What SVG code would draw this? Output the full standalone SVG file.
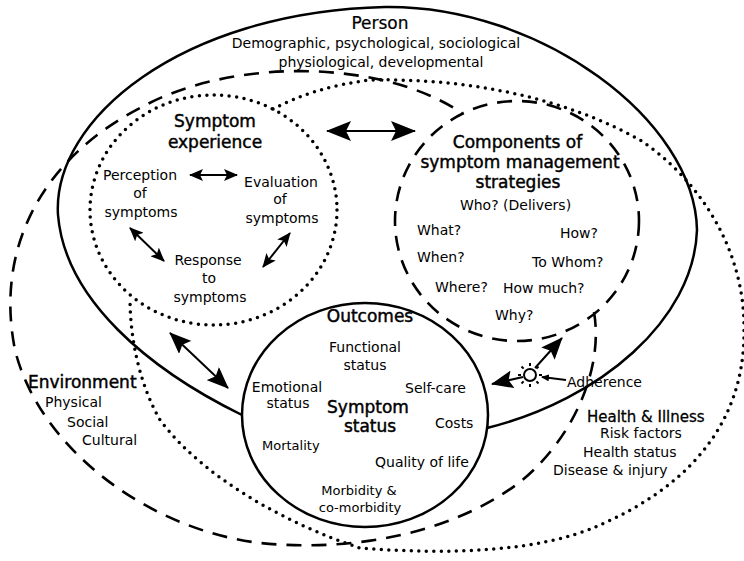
<svg xmlns="http://www.w3.org/2000/svg" width="744" height="561" viewBox="0 0 744 561">
<style>
text{font-family:"DejaVu Sans","Liberation Sans",sans-serif;fill:#000}
.t{font-size:17px;stroke:#000;stroke-width:0.45}
.b{font-size:14px}
.s{font-size:13px}
.m{text-anchor:middle}
.solid{fill:none;stroke:#000;stroke-width:2.5}
.dash{fill:none;stroke:#000;stroke-width:2.6;stroke-dasharray:15 10}
.dot{fill:none;stroke:#000;stroke-width:3.5;stroke-dasharray:0 7.5;stroke-linecap:round}
.ln{fill:none;stroke:#000;stroke-width:2}
</style>
<defs>
<marker id="big" viewBox="0 0 25 20" refX="24" refY="10" markerWidth="25" markerHeight="20" markerUnits="userSpaceOnUse" orient="auto-start-reverse"><path d="M0,0 L25,10 L0,20 L5,10 z" fill="#000"/></marker>
<marker id="mid" viewBox="0 0 22 18" refX="21" refY="9" markerWidth="22" markerHeight="18" markerUnits="userSpaceOnUse" orient="auto-start-reverse"><path d="M0,0 L22,9 L0,18 L4,9 z" fill="#000"/></marker>
<marker id="sm" viewBox="0 0 14 12" refX="13" refY="6" markerWidth="14" markerHeight="12" markerUnits="userSpaceOnUse" orient="auto-start-reverse"><path d="M0,0 L14,6 L0,12 L3,6 z" fill="#000"/></marker>
<marker id="tiny" viewBox="0 0 8 7" refX="7" refY="3.5" markerWidth="8" markerHeight="7" markerUnits="userSpaceOnUse" orient="auto"><path d="M0,0 L8,3.5 L0,7 z" fill="#000"/></marker>
</defs>
<rect width="744" height="561" fill="#fff"/>

<g id="environment">
<path class="dash" d="M594,312 C604,370 572,440 520,482 C450,535 350,552 260,543 C150,530 40,450 15,350 C-5,250 40,160 140,108 C230,58 380,58 462,113"/>
<text class="t" x="28" y="388">Environment</text>
<text class="b" x="45" y="407">Physical</text>
<text class="b" x="67" y="427">Social</text>
<text class="b" x="82" y="445">Cultural</text>
</g>

<g id="health-illness">
<path class="dot" d="M273,109 C300,95 330,85 370,80 C460,78 560,95 640,140 C700,180 745,250 744,330 C745,430 680,490 600,525 C540,552 450,555 360,548 C290,525 205,480 160,420 C140,385 130,340 130,298"/>
<text x="587" y="422" style="font-size:15px;stroke:#000;stroke-width:0.3">Health &amp; Illness</text>
<text class="b" x="600" y="438">Risk factors</text>
<text class="b" x="583" y="457">Health status</text>
<text class="b" x="553" y="475">Disease &amp; injury</text>
</g>

<g id="person">
<path class="solid" d="M242,415 C150,370 65,300 58,215 C52,120 180,12 385,7 C540,5 695,120 697,230 C694,320 600,400 487,428"/>
<text class="m" x="380" y="29" style="font-size:17px;stroke:#000;stroke-width:0.2">Person</text>
<text class="b m" x="376" y="48">Demographic, psychological, sociological</text>
<text class="b m" x="381" y="67">physiological, developmental</text>
</g>

<g id="symptom-experience">
<ellipse class="dot" cx="213.5" cy="210" rx="123.5" ry="115"/>
<text class="t m" x="215" y="127">Symptom</text>
<text class="t m" x="215" y="148">experience</text>
<g id="perception">
<text class="b m" x="140" y="180">Perception</text>
<text class="b m" x="140" y="198">of</text>
<text class="b m" x="141" y="217">symptoms</text>
</g>
<g id="evaluation">
<text class="b m" x="281" y="187">Evaluation</text>
<text class="b m" x="280" y="204">of</text>
<text class="b m" x="282" y="223">symptoms</text>
</g>
<g id="response">
<text class="b m" x="208" y="265">Response</text>
<text class="b m" x="209" y="283">to</text>
<text class="b m" x="210" y="302">symptoms</text>
</g>
</g>

<g id="components">
<ellipse class="dash" cx="517" cy="221" rx="122" ry="120"/>
<text class="t m" x="517.5" y="148">Components of</text>
<text class="t m" x="520" y="168">symptom management</text>
<text class="t m" x="518" y="188">strategies</text>
<text class="b m" x="515.5" y="210">Who? (Delivers)</text>
<text class="b" x="417" y="235">What?</text>
<text class="b" x="560" y="238">How?</text>
<text class="b" x="417" y="262">When?</text>
<text class="b" x="532" y="267">To Whom?</text>
<text class="b" x="435" y="292">Where?</text>
<text class="b" x="503" y="293">How much?</text>
<text class="b" x="495" y="320">Why?</text>
</g>

<g id="outcomes">
<ellipse class="solid" cx="365" cy="415" rx="123" ry="112" fill="#fff"/>
<text class="t m" x="370" y="322">Outcomes</text>
<text class="b m" x="365" y="352">Functional</text>
<text class="b m" x="365" y="370">status</text>
<text class="b m" x="287" y="392">Emotional</text>
<text class="b m" x="288" y="408">status</text>
<text class="t m" x="368" y="413">Symptom</text>
<text class="t m" x="370" y="432">status</text>
<text class="b" x="405" y="393">Self-care</text>
<text class="b" x="435" y="428">Costs</text>
<text class="s" x="262" y="450">Mortality</text>
<text class="b" x="375" y="467">Quality of life</text>
<text class="s m" x="359" y="495">Morbidity &amp;</text>
<text class="s m" x="360" y="512">co-morbidity</text>
</g>

<g id="adherence">
<circle cx="530" cy="375" r="6" fill="#fff" stroke="#000" stroke-width="2"/>
<path class="ln" stroke-width="1.6" d="M530,366 V363 M530,384 V387 M521,375 H518 M539,375 H542 M523.6,368.6 L521.5,366.5 M536.4,368.6 L538.5,366.5 M523.6,381.4 L521.5,383.5 M536.4,381.4 L538.5,383.5"/>
<text class="b" x="567" y="387">Adherence</text>
</g>

<g id="connectors">
<line class="ln" x1="327" y1="131" x2="415" y2="131" stroke-width="2.5" marker-start="url(#big)" marker-end="url(#big)"/>
<line class="ln" x1="170" y1="333" x2="228" y2="388" stroke-width="2.5" marker-start="url(#mid)" marker-end="url(#mid)"/>
<line class="ln" x1="190" y1="175" x2="237" y2="175" marker-start="url(#sm)" marker-end="url(#sm)"/>
<line class="ln" x1="130" y1="228" x2="164" y2="261" marker-start="url(#sm)" marker-end="url(#sm)"/>
<line class="ln" x1="290" y1="233" x2="263" y2="267" marker-start="url(#sm)" marker-end="url(#sm)"/>
<line class="ln" x1="535" y1="368" x2="562" y2="338" marker-end="url(#mid)"/>
<line class="ln" x1="523" y1="377" x2="492" y2="384" marker-end="url(#mid)"/>
<line class="ln" x1="566" y1="380" x2="542" y2="377" stroke-width="1.6" marker-end="url(#tiny)"/>
</g>
</svg>
